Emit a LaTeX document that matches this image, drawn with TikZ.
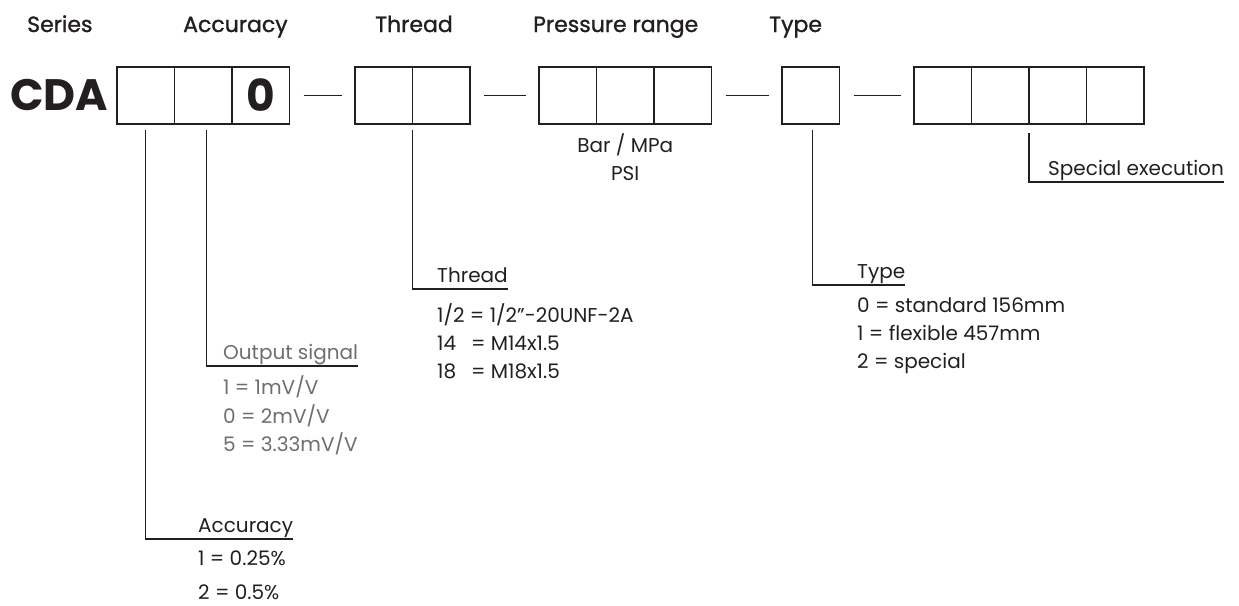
\documentclass[tikz,border=0pt]{standalone}
\usepackage{fontspec}
\setmainfont{Poppins}
\newfontfamily\headfont{Poppins}[FakeBold=1.2]
\usetikzlibrary{positioning}
\definecolor{inkblack}{HTML}{231F20}
\definecolor{inkgray}{HTML}{6D6E71}

\begin{document}
\begin{tikzpicture}[
  x=1pt, y=-1pt,
  cell/.style={draw=inkblack, line width=1.5pt, minimum width=57.5pt, minimum height=57pt, inner sep=0pt, outer sep=0pt},
  head/.style={anchor=base west, inner sep=0pt, text=inkblack, font=\headfont\fontsize{22}{26}\selectfont},
  code/.style={anchor=base west, inner sep=0pt, text=inkblack, font=\bfseries\fontsize{44}{48}\selectfont},
  tag/.style={anchor=base west, inner sep=0pt, text=inkblack, font=\fontsize{20}{24}\selectfont},
  item/.style={tag},
  sepline/.style={draw=inkblack, line width=1.4pt, shorten <=14pt, shorten >=13pt},
  lead/.style={draw=inkblack, line width=1.3pt}
]
\useasboundingbox (0,0) rectangle (1239,605);

% headings
\node[head] (hser) at (27,32) {Series};
\node[head] (hacc) at (183,32) {Accuracy};
\node[head] (hthr) at (375,32) {Thread};
\node[head] (hpre) at (533,32) {Pressure range};
\node[head] (htyp) at (769,32) {Type};

% code row
\node[code] (cda) at (10,110) {CDA};
\node[cell] (s1) at (145.75,95.5) {};
\node[cell, right=0pt of s1] (s2) {};
\node[cell, right=0pt of s2, font=\bfseries\fontsize{44}{48}\selectfont, text=inkblack] (s3) {0};
\node[cell] (t1) at (383.75,95.5) {};
\node[cell, right=0pt of t1] (t2) {};
\node[cell] (p1) at (567.75,95.5) {};
\node[cell, right=0pt of p1] (p2) {};
\node[cell, right=0pt of p2] (p3) {};
\node[cell] (y1) at (810.75,95.5) {};
\node[cell] (e1) at (942.75,95.5) {};
\node[cell, right=0pt of e1] (e2) {};
\node[cell, right=0pt of e2] (e3) {};
\node[cell, right=0pt of e3] (e4) {};
\foreach \a/\b in {s3/t1,t2/p1,p3/y1,y1/e1}{\draw[sepline] (\a) -- (\b);}

% pressure units
\node[item, anchor=base] (bar) at ([yshift=-28pt]p2.south) {Bar / MPa};
\node[item, anchor=base] (psi) at ([yshift=-56pt]p2.south) {PSI};

% accuracy
\node[tag] (accl) at (198,532) {Accuracy};
\foreach \t [count=\i] in {1 = 0.25\%, 2 = 0.5\%}
  \node[item] (acc\i) at (198,532+33.5*\i) {\t};
\draw[lead] ([yshift=-6pt]s1.south) |- ([yshift=-7pt]accl.base east);

% output signal
\node[tag, text=inkgray] (outl) at (223,359) {Output signal};
\foreach \t [count=\i] in {1 = 1mV/V, 0 = 2mV/V, 5 = 3.33mV/V}
  \node[item, text=inkgray] (out\i) at (223,366+28.5*\i) {\t};
\draw[lead] ([xshift=3pt,yshift=-6pt]s2.south) |- ([yshift=-7pt]outl.base east);

% thread
\node[tag] (thrl) at (437,282) {Thread};
\foreach \t [count=\i] in {1/2 = 1/2”-20UNF-2A, 14\hphantom{/} = M14x1.5, 18\hphantom{/} = M18x1.5}
  \node[item] (thr\i) at (437,294+28*\i) {\t};
\draw[lead] ([yshift=-6pt]t1.south east) |- ([yshift=-7pt]thrl.base east);

% type
\node[tag] (typl) at (857,278) {Type};
\foreach \t [count=\i] in {0 = standard 156mm, 1 = flexible 457mm, 2 = special}
  \node[item] (typ\i) at (857,284+28*\i) {\t};
\draw[lead] ([xshift=2pt,yshift=-6pt]y1.south) |- ([yshift=-7pt]typl.base east);

% special execution
\node[tag] (spel) at (1048,175) {Special execution};
\draw[lead] ([yshift=-9pt]e2.south east) |- ([yshift=-7pt]spel.base east);
\end{tikzpicture}
\end{document}
